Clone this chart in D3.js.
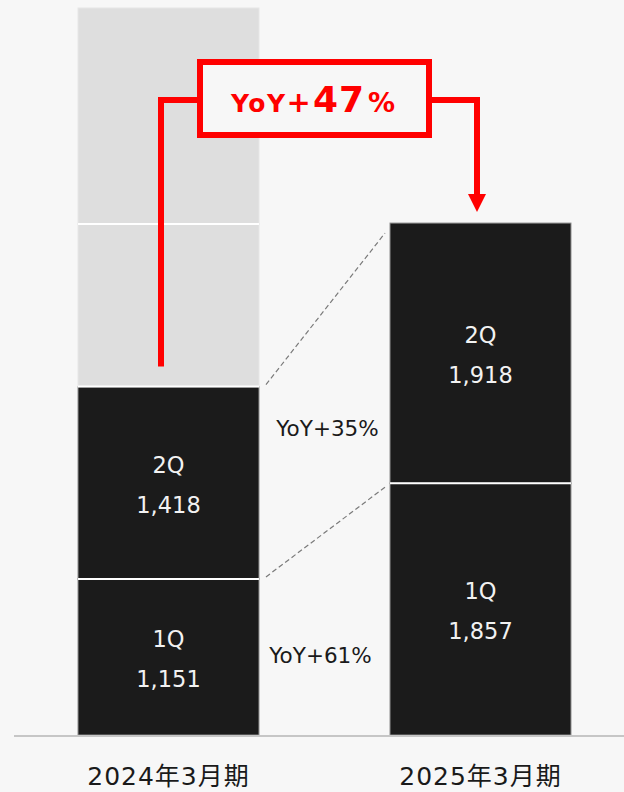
<!doctype html>
<html>
<head>
  <meta charset="utf-8">
  <script src="https://d3js.org/d3.v7.min.js"></script>
</head>
<style>
  body {
    margin: 0;
    background: #f7f7f7;
  }

  svg text {
    font-family: "DejaVu Sans", "Noto Sans CJK JP", sans-serif;
  }
</style>
<body>
<svg></svg>

<script>
  const periods = ["2024年3月期", "2025年3月期"];
  const quarters = ["1Q", "2Q", "3Q", "4Q"];
  const sales2024 = [1151, 1418, 1199, 1593];
  const sales2025 = [1857, 1918];
  const yoyQuarter = ["YoY+61%", "YoY+35%"];
  const yoyTotal = ["YoY", "+", "47", "%"];

  const width = 624, height = 792;
  const baseY = 735;
  const svg = d3.select("svg")
    .attr("width", width)
    .attr("height", height);

  const xScale = d3.scaleBand()
    .domain(periods)
    .range([12.5, 636.5])
    .paddingInner(0.42)
    .paddingOuter(0.21);
  const yScale = d3.scaleLinear()
    .domain([0, 5420])
    .range([baseY, 0]);

  // build stacked segments
  const segments = [];
  [sales2024, sales2025].forEach(function (values, i) {
    let sum = 0;
    values.forEach(function (v, q) {
      segments.push({
        period: periods[i],
        quarter: quarters[q],
        value: v,
        y0: sum,
        y1: sum + v,
        past: i == 0 && q >= sales2025.length
      });
      sum += v;
    });
  });

  svg.selectAll("rect.seg")
    .data(segments)
    .enter()
    .append("rect")
    .attr("class", "seg")
    .attr("x", d => xScale(d.period))
    .attr("y", d => yScale(d.y1))
    .attr("width", xScale.bandwidth())
    .attr("height", d => yScale(d.y0) - yScale(d.y1))
    .attr("fill", d => d.past ? "#dedede" : "#1b1b1b")
    .attr("stroke", d => d.past ? "#e6e6e6" : "#8a8a8a")
    .attr("stroke-width", 1);

  // white separators between segments
  svg.selectAll("line.sep")
    .data(segments.filter(d => d.y0 > 0))
    .enter()
    .append("line")
    .attr("x1", d => xScale(d.period))
    .attr("x2", d => xScale(d.period) + xScale.bandwidth())
    .attr("y1", d => yScale(d.y0))
    .attr("y2", d => yScale(d.y0))
    .attr("stroke", "#ffffff")
    .attr("stroke-width", 2);

  // quarter labels
  const labelled = segments.filter(d => !d.past);
  svg.selectAll("text.q")
    .data(labelled)
    .enter()
    .append("text")
    .attr("x", d => xScale(d.period) + xScale.bandwidth() / 2)
    .attr("y", d => (yScale(d.y0) + yScale(d.y1)) / 2 - 10)
    .attr("text-anchor", "middle")
    .attr("fill", "#f2f2f2")
    .style("font-size", "22.5px")
    .text(d => d.quarter);
  svg.selectAll("text.v")
    .data(labelled)
    .enter()
    .append("text")
    .attr("x", d => xScale(d.period) + xScale.bandwidth() / 2)
    .attr("y", d => (yScale(d.y0) + yScale(d.y1)) / 2 + 30)
    .attr("text-anchor", "middle")
    .attr("fill", "#f2f2f2")
    .style("font-size", "22.5px")
    .text(d => d3.format(",")(d.value));

  // dashed connectors + yoy labels
  const xL = xScale(periods[0]) + xScale.bandwidth();
  const xR = xScale(periods[1]);
  const gapMid = (xL + xR) / 2;
  const dashOff = [4, 10];
  const yoyOff = [{dx: -4, dy: 6}, {dx: 3, dy: -47}];
  quarters.slice(0, sales2025.length).forEach(function (q, i) {
    const topL = yScale(d3.sum(sales2024.slice(0, i + 1)));
    const topR = yScale(d3.sum(sales2025.slice(0, i + 1)));
    svg.append("line")
      .attr("x1", xL + 7)
      .attr("y1", topL - 2)
      .attr("x2", xR - 5)
      .attr("y2", topR + dashOff[i])
      .attr("stroke", "#7a7a7a")
      .attr("stroke-width", 1.2)
      .attr("stroke-dasharray", "5,3");
    const botL = yScale(d3.sum(sales2024.slice(0, i)));
    svg.append("text")
      .attr("x", gapMid + yoyOff[i].dx)
      .attr("y", (topL + botL) / 2 + yoyOff[i].dy)
      .attr("text-anchor", "middle")
      .attr("fill", "#1a1a1a")
      .style("font-size", "21.5px")
      .text(yoyQuarter[i]);
  });

  // baseline
  svg.append("line")
    .attr("x1", 14)
    .attr("x2", width)
    .attr("y1", baseY + 1)
    .attr("y2", baseY + 1)
    .attr("stroke", "#c6c6c6")
    .attr("stroke-width", 2);

  // category labels
  svg.selectAll("text.cat")
    .data(periods)
    .enter()
    .append("text")
    .attr("x", d => xScale(d) + xScale.bandwidth() / 2)
    .attr("y", 785)
    .attr("text-anchor", "middle")
    .attr("fill", "#1a1a1a")
    .style("font-size", "25px")
    .style("letter-spacing", "1px")
    .text(d => d);

  // total yoy arrow
  const red = "#ff0000";
  const lineY = 100;
  const leftX = xScale(periods[0]) + xScale.bandwidth() / 2 - 7.5;
  const rightX = xScale(periods[1]) + xScale.bandwidth() / 2 - 3.5;
  const leftBottom = yScale(sales2024[0] + sales2024[1]) - 20;
  const rightTop = yScale(d3.sum(sales2025)) - 11;
  const box = {x: 200, y: 62, w: 229, h: 73};

  svg.append("path")
    .attr("d", `M${leftX},${leftBottom} V${lineY} H${box.x}`)
    .attr("fill", "none")
    .attr("stroke", red)
    .attr("stroke-width", 6);
  svg.append("path")
    .attr("d", `M${box.x + box.w},${lineY} H${rightX} V${rightTop - 16}`)
    .attr("fill", "none")
    .attr("stroke", red)
    .attr("stroke-width", 6);
  svg.append("path")
    .attr("d", `M${rightX - 9},${rightTop - 18} L${rightX + 9},${rightTop - 18} L${rightX},${rightTop} Z`)
    .attr("fill", red);
  svg.append("rect")
    .attr("x", box.x)
    .attr("y", box.y)
    .attr("width", box.w)
    .attr("height", box.h)
    .attr("fill", "#f7f7f7")
    .attr("stroke", red)
    .attr("stroke-width", 6);

  const t = svg.append("text")
    .attr("x", 231)
    .attr("y", 112)
    .attr("fill", red)
    .style("font-weight", "bold");
  t.append("tspan")
    .style("font-size", "25px")
    .style("letter-spacing", "1.5px")
    .text(yoyTotal[0]);
  t.append("tspan")
    .style("font-size", "29px")
    .text(yoyTotal[1]);
  t.append("tspan")
    .attr("dx", 2)
    .style("font-size", "36px")
    .style("letter-spacing", "1px")
    .text(yoyTotal[2]);
  t.append("tspan")
    .attr("dx", 3)
    .style("font-size", "27px")
    .text(yoyTotal[3]);
</script>
</body>
</html>
